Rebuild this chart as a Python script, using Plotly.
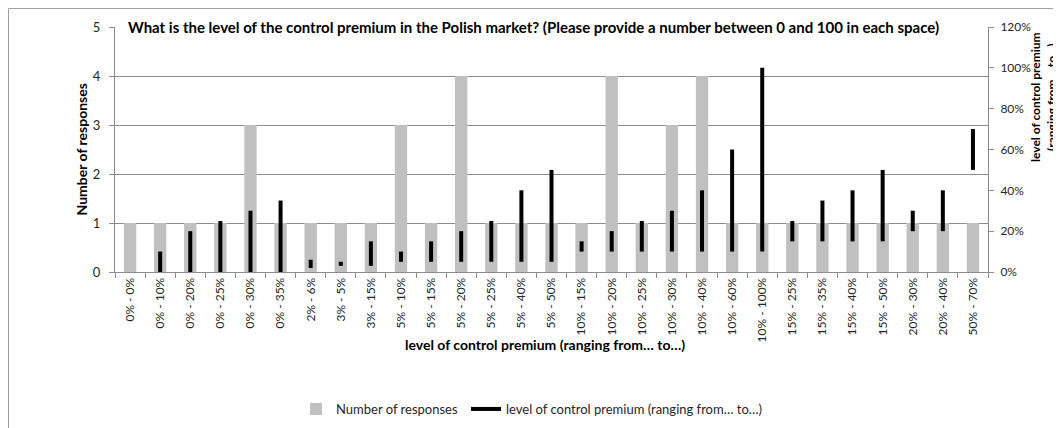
import plotly.graph_objects as go

categories = ["0% - 0%", "0% - 10%", "0% - 20%", "0% - 25%", "0% - 30%", "0% - 35%",
              "2% - 6%", "3% - 5%", "3% - 15%", "5% - 10%", "5% - 15%", "5% - 20%",
              "5% - 25%", "5% - 40%", "5% - 50%", "10% - 15%", "10% - 20%", "10% - 25%",
              "10% - 30%", "10% - 40%", "10% - 60%", "10% - 100%", "15% - 25%", "15% - 35%",
              "15% - 40%", "15% - 50%", "20% - 30%", "20% - 40%", "50% - 70%"]
responses = [1, 1, 1, 1, 3, 1, 1, 1, 1, 3, 1, 4, 1, 1, 1, 1, 4, 1, 3, 4, 1, 1, 1, 1, 1, 1, 1, 1, 1]
premium_low = [0, 0, 0, 0, 0, 0, 0.02, 0.03, 0.03, 0.05, 0.05, 0.05, 0.05, 0.05, 0.05,
               0.10, 0.10, 0.10, 0.10, 0.10, 0.10, 0.10, 0.15, 0.15, 0.15, 0.15, 0.20, 0.20, 0.50]
premium_high = [0, 0.10, 0.20, 0.25, 0.30, 0.35, 0.06, 0.05, 0.15, 0.10, 0.15, 0.20, 0.25, 0.40, 0.50,
                0.15, 0.20, 0.25, 0.30, 0.40, 0.60, 1.00, 0.25, 0.35, 0.40, 0.50, 0.30, 0.40, 0.70]
left_ticks = [0, 1, 2, 3, 4, 5]
right_ticks = [0, 0.2, 0.4, 0.6, 0.8, 1.0, 1.2]

title_text = ("What is the level of the control premium in the Polish market? "
              "(Please provide a number between 0 and 100 in each space)")
x_title = "level of control premium (ranging from… to…)"

FONT = "Lato"
TXT = "#262626"
GRID = "#8c8c8c"

# build high-low segments from data arrays
seg_x, seg_y = [], []
for c, lo, hi in zip(categories, premium_low, premium_high):
    seg_x += [c, c, None]
    seg_y += [lo, hi, None]

fig = go.Figure()
fig.add_trace(go.Bar(x=categories, y=responses, name="Number of responses",
                     marker=dict(color="#c0c0c0", line=dict(width=0)), width=0.41,
                     legend="legend"))
fig.add_trace(go.Scatter(x=seg_x, y=seg_y, yaxis="y2", mode="lines",
                         name=x_title, line=dict(color="black", width=4),
                         connectgaps=False, legend="legend2"))

OFF = 8  # page body margin
W, H = 1061 - OFF, 428 - OFF
L = 115 - OFF
T = 27 - OFF
R = W - (988 - OFF)
B = H - (272 - OFF)
pw, ph = W - L - R, H - T - B

def px(xp):  # page pixel -> paper x
    return (xp - OFF - L) / pw

def py(yp):  # page pixel -> paper y
    return (H - B - (yp - OFF)) / ph

legend_style = dict(orientation="h", xanchor="left", yanchor="middle",
                    font=dict(size=13, color=TXT), bgcolor="rgba(0,0,0,0)")

fig.update_layout(
    width=W, height=H,
    margin=dict(l=L, r=R, t=T, b=B, autoexpand=False),
    paper_bgcolor="white", plot_bgcolor="white",
    font=dict(family=FONT, size=12, color=TXT),
    showlegend=True,
    legend=dict(x=px(296), y=py(409), **legend_style),
    legend2=dict(x=px(466), y=py(409), **legend_style),
    xaxis=dict(type="category", categoryorder="array", categoryarray=categories,
               tickangle=-90, ticks="outside", ticklen=5, tickcolor=GRID,
               tickson="boundaries", showline=True, linecolor=GRID, linewidth=1,
               showgrid=False, tickfont=dict(size=12, color=TXT)),
    yaxis=dict(range=[0, 5], tickvals=left_ticks, ticks="outside", ticklen=5,
               tickcolor=GRID, showline=True, linecolor=GRID, linewidth=1,
               showgrid=True, gridcolor=GRID, gridwidth=1, zeroline=False,
               ticklabelstandoff=6, tickfont=dict(size=13, color=TXT)),
    yaxis2=dict(range=[0, 1.2], tickvals=right_ticks, tickformat=".0%", overlaying="y",
                side="right", ticks="outside", ticklen=5, tickcolor=GRID,
                showline=True, linecolor=GRID, linewidth=1, showgrid=False,
                zeroline=False, ticklabelstandoff=4, tickfont=dict(size=12, color=TXT)),
    annotations=[
        dict(text="<b>" + title_text + "</b>", x=px(533), y=1.0, xref="paper", yref="paper",
             xanchor="center", yanchor="middle", showarrow=False, bgcolor="white",
             borderpad=3, font=dict(size=15, color="black", family=FONT)),
        dict(text="<b>Number of responses</b>", x=px(81), y=0.5, xref="paper", yref="paper",
             xanchor="center", yanchor="middle", textangle=-90, showarrow=False,
             font=dict(size=14, color="black", family=FONT)),
        dict(text="<b>" + x_title + "</b>", x=px(545), y=py(344), xref="paper", yref="paper",
             xanchor="center", yanchor="middle", showarrow=False,
             font=dict(size=14, color="black", family=FONT)),
        dict(text="<b>level of control premium<br>(ranging from… to…)</b>", x=px(1043), y=py(97),
             xref="paper", yref="paper", xanchor="center", yanchor="middle", textangle=-90,
             showarrow=False, align="center", font=dict(size=12, color="black", family=FONT)),
    ],
    shapes=[dict(type="rect", xref="paper", yref="paper", x0=px(8.5), x1=px(1100),
                 y0=py(470), y1=py(8.5), line=dict(color="#a0a0a0", width=1),
                 fillcolor="rgba(0,0,0,0)", layer="below")],
)

fig.write_html("out.html")
